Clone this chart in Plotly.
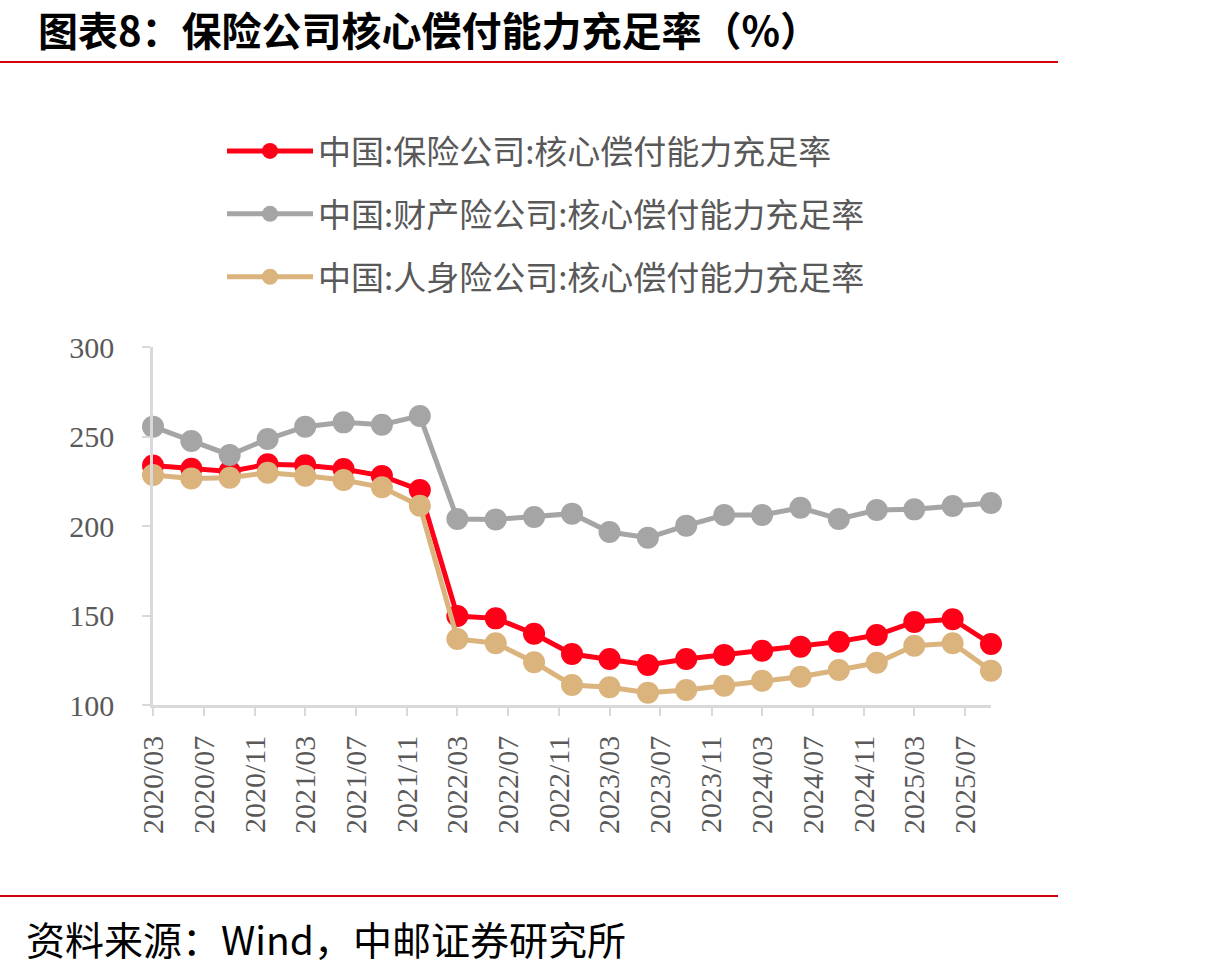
import pandas as pd
import plotly.graph_objects as go

dates = pd.date_range("2020-03-01", periods=23, freq="3MS")
series_names = [
    "中国:保险公司:核心偿付能力充足率",
    "中国:财产险公司:核心偿付能力充足率",
    "中国:人身险公司:核心偿付能力充足率",
]
total = [233.8, 232.0, 230.5, 234.5, 234.0, 231.8, 228.0, 220.1, 149.7, 148.4, 139.8,
         128.5, 125.7, 122.3, 125.7, 128.0, 130.3, 132.6, 135.4, 139.1, 146.4, 147.9, 134.1]
property_ins = [255.5, 247.5, 239.7, 248.6, 255.5, 257.9, 256.6, 261.5, 203.9, 203.7, 205.0,
                206.9, 196.6, 193.5, 200.2, 206.1, 206.1, 210.2, 203.9, 208.9, 209.3, 211.2, 212.8]
life_ins = [228.5, 226.6, 227.0, 229.8, 228.1, 225.7, 221.6, 211.3, 136.9, 134.5, 123.9,
            111.2, 109.9, 106.9, 108.4, 110.8, 113.6, 115.8, 119.6, 123.6, 133.1, 134.5, 119.2]
colors = ["#FF0018", "#A5A5A5", "#DBB37C"]

W, H = 1215, 971
L, R, T, B = 153, 991, 347, 705


def px(x):
    return (x - L) / (R - L)


def py(y):
    return (B - y) / (B - T)


fig = go.Figure()
for i, (name, vals) in enumerate(zip(series_names, [total, property_ins, life_ins])):
    fig.add_trace(go.Scatter(
        x=dates, y=vals, name=name, mode="lines+markers",
        line=dict(color=colors[i], width=5),
        marker=dict(color=colors[i], size=22),
        cliponaxis=False, legendgroup=f"g{i}",
    ))

axis_col = "#D9D9D9"
fig.update_layout(
    width=W, height=H,
    margin=dict(l=L, r=W - R, t=T, b=H - B),
    paper_bgcolor="white", plot_bgcolor="white",
    showlegend=True,
    legend=dict(
        x=px(222), y=py(123), xanchor="left", yanchor="top",
        font=dict(family="Noto Sans CJK SC", size=33, color="#595959"),
        tracegroupgap=17, itemwidth=86, bgcolor="rgba(0,0,0,0)",
    ),
    xaxis=dict(
        type="date", range=[dates[0], dates[-1]],
        tick0="2020-03-01", dtick="M4", tickformat="%Y/%m", tickangle=-90,
        showgrid=False, zeroline=False,
        showline=True, linecolor=axis_col, linewidth=2.5,
        ticks="outside", ticklen=8, tickwidth=2, tickcolor=axis_col,
        tickfont=dict(family="Liberation Serif", size=30, color="#595959"),
        ticklabelstandoff=8,
    ),
    yaxis=dict(
        range=[100, 300], tickvals=[100, 150, 200, 250, 300],
        showgrid=False, zeroline=False,
        showline=True, linecolor=axis_col, linewidth=2.5,
        ticks="outside", ticklen=8, tickwidth=2, tickcolor=axis_col,
        tickfont=dict(family="Liberation Serif", size=30, color="#595959"),
        ticklabelstandoff=22,
    ),
    shapes=[
        dict(type="line", xref="paper", yref="paper", x0=px(0), x1=px(1058),
             y0=py(62), y1=py(62), line=dict(color="#D40010", width=2)),
        dict(type="line", xref="paper", yref="paper", x0=px(0), x1=px(1058),
             y0=py(896), y1=py(896), line=dict(color="#D40010", width=2)),
    ],
    annotations=[
        dict(text="<b>图表8：保险公司核心偿付能力充足率（%）</b>", xref="paper", yref="paper",
             x=px(36), y=py(-2), xanchor="left", yanchor="top", showarrow=False,
             font=dict(family="Noto Sans CJK SC", size=40, color="black")),
        dict(text="资料来源：Wind，中邮证券研究所", xref="paper", yref="paper",
             x=px(24), y=py(938), xanchor="left", yanchor="middle", showarrow=False,
             font=dict(family="Noto Sans CJK SC", size=39, color="black")),
    ],
)

fig.write_html("out.html")
